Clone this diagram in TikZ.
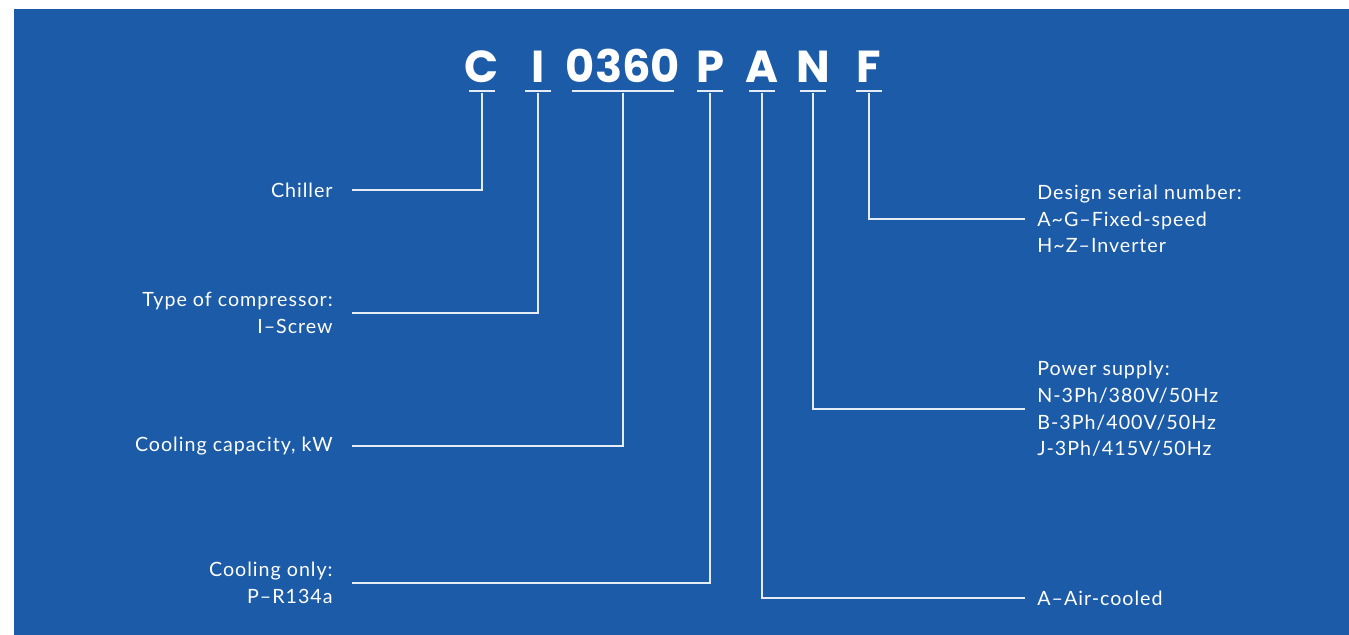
\documentclass[tikz,border=0pt]{standalone}
\usepackage{fontspec}
\setmainfont{Lato}[LetterSpace=5]
\newfontfamily\codefont{Poppins}
\usetikzlibrary{positioning}
\definecolor{panelblue}{HTML}{1B5BA8}
\definecolor{leadwhite}{HTML}{E4ECF6}

\begin{document}
\begin{tikzpicture}[
  x=0.02cm, y=-0.02cm,
  code/.style={text=white, font=\codefont\fontsize{25.5}{30}\selectfont\bfseries,
               inner sep=0, anchor=base},
  bar/.style={fill=leadwhite, inner sep=0, minimum height=1.4pt, minimum width=0.52cm},
  lbll/.style={text=white, font=\fontsize{11.2}{15.2}\selectfont, align=right,
               anchor=east, inner sep=0},
  lblr/.style={text=white, font=\fontsize{11.2}{15.2}\selectfont, align=left,
               anchor=west, inner sep=0},
  lead/.style={leadwhite, line width=0.75pt},
]
\useasboundingbox (0,0) rectangle (1349,635);
\fill[panelblue] (14,9) rectangle (1349,635);

% code letters and their underlines
\node[code] (cC) at (482,83) {C};
\node[code] (cI) at (538,83) {I};
\node[code] (cCap) at (623,83) {0360};
\node[code] (cP) at (710,83) {P};
\node[code] (cA) at (762,83) {A};
\node[code] (cN) at (813,83) {N};
\node[code] (cF) at (869,83) {F};

\node[bar] (uC) at (482,91) {};
\node[bar] (uI) at (538,91) {};
\node[bar, minimum width=2.06cm] (uCap) at (623,91) {};
\node[bar] (uP) at (710,91) {};
\node[bar] (uA) at (762,91) {};
\node[bar] (uN) at (813,91) {};
\node[bar] (uF) at (869,91) {};

% left labels
\node[lbll] (chiller) at (333,190) {Chiller};
\node[lbll] (compr) at (333,313) {Type of compressor:\\I--Screw};
\node[lbll] (capac) at (333,446) {Cooling capacity, kW};
\node[lbll] (refr) at (333,583) {Cooling only:\\P--R134a};

% right labels
\node[lblr] (serial) at (1037,219) {Design serial number:\\A\textasciitilde G--Fixed-speed\\H\textasciitilde Z--Inverter};
\node[lblr] (power) at (1037,409) {Power supply:\\N-3Ph/380V/50Hz\\B-3Ph/400V/50Hz\\J-3Ph/415V/50Hz};
\node[lblr] (cooled) at (1037,598) {A--Air-cooled};

% leaders
\draw[lead] (uC.south) |- ([xshift=19*0.02cm]chiller.east);
\draw[lead] (uI.south) |- ([xshift=19*0.02cm]compr.east);
\draw[lead] (uCap.south) |- ([xshift=19*0.02cm]capac.east);
\draw[lead] (uP.south) |- ([xshift=19*0.02cm]refr.east);
\draw[lead] (uA.south) |- ([xshift=-12*0.02cm]cooled.west);
\draw[lead] (uN.south) |- ([xshift=-12*0.02cm]power.west);
\draw[lead] (uF.south) |- ([xshift=-12*0.02cm]serial.west);
\end{tikzpicture}
\end{document}
